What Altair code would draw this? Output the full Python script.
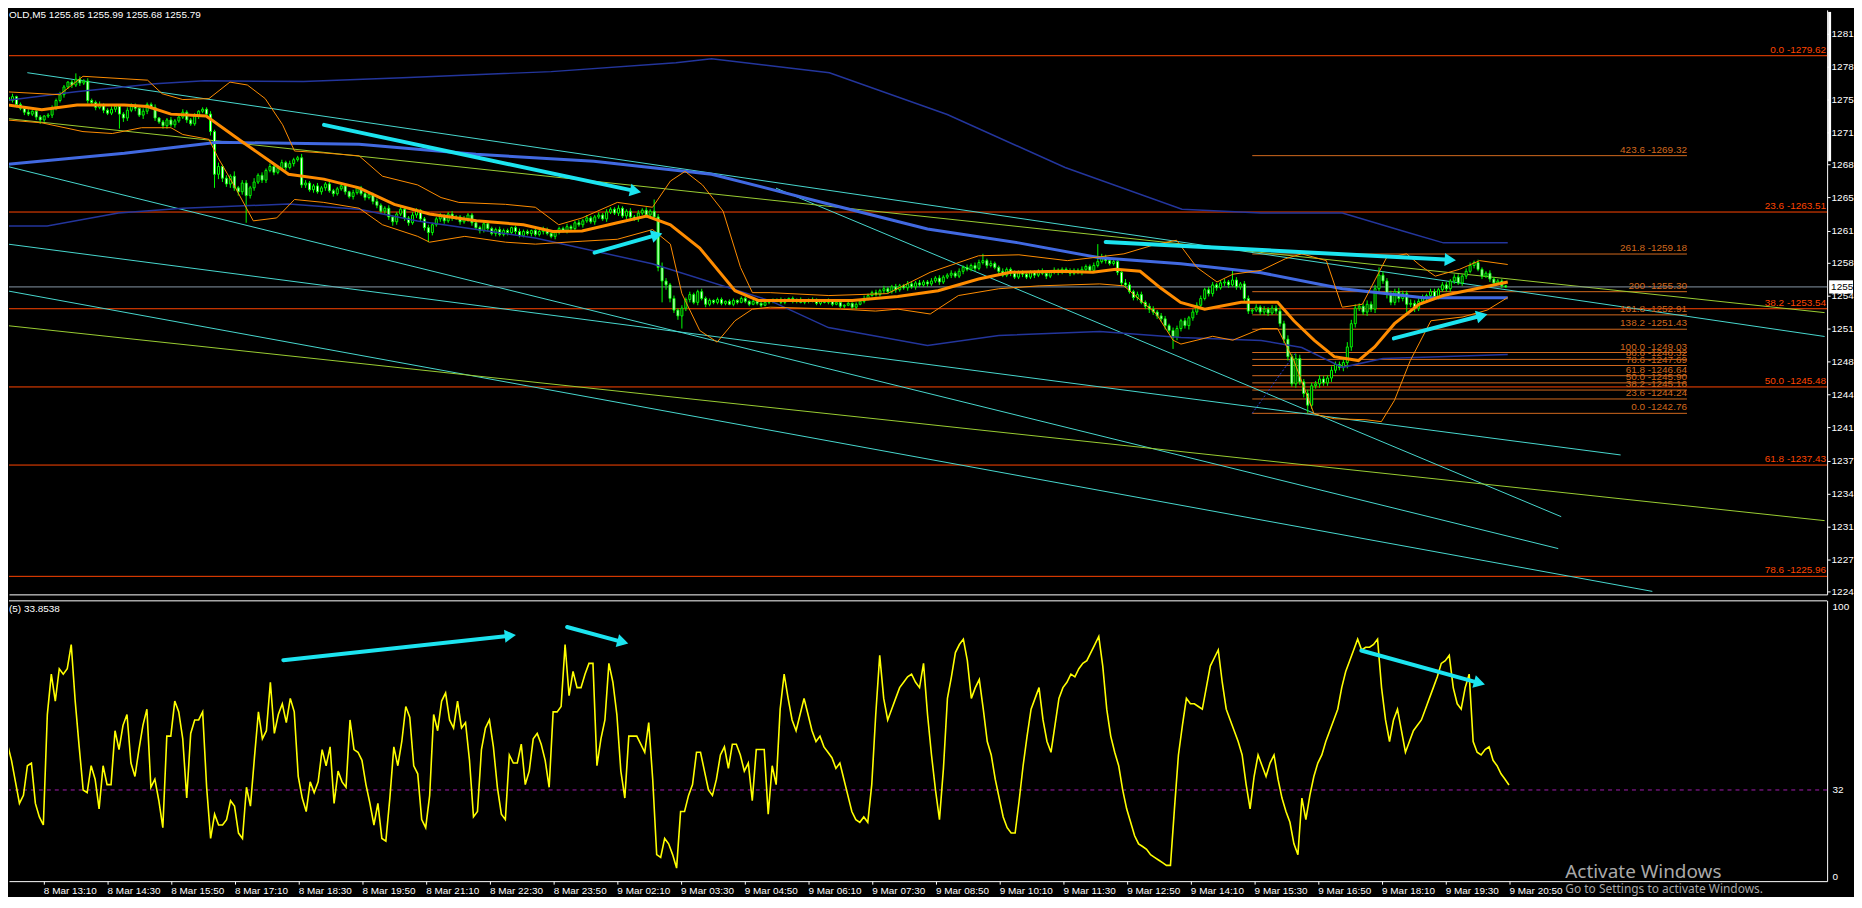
import math
import altair as alt
import pandas as pd

# ---------------------------------------------------------------- data
FIRST_BAR = -10          # index of the first M5 bar (bar 0 = 8 Mar 13:10)
first_open = 1275.3

close = [
    1275.0, 1275.4, 1274.6, 1274.2, 1273.8, 1273.6, 1273.9, 1273.3, 1273.0, 1273.4,
    1273.5, 1274.2, 1275.0, 1275.6, 1276.4, 1276.9, 1276.6, 1277.2, 1276.8, 1277.0,
    1275.0, 1274.8, 1274.3, 1274.6, 1274.0, 1273.7, 1274.1, 1274.4, 1273.6, 1273.2,
    1274.0, 1274.5, 1274.2, 1273.5, 1273.9, 1274.6, 1274.3, 1273.2, 1272.8, 1272.4,
    1273.0, 1272.5, 1272.9, 1273.3, 1273.8, 1273.0, 1272.6, 1273.4, 1273.9, 1274.1,
    1273.6, 1271.8, 1267.4, 1268.2, 1267.0, 1266.4, 1267.2, 1266.0, 1265.6, 1266.5,
    1265.2, 1266.0, 1266.6, 1267.3, 1266.8, 1267.8, 1268.2, 1267.6, 1268.0, 1268.6,
    1268.1, 1268.5, 1268.9, 1269.1, 1266.3, 1266.5, 1265.8, 1266.2, 1265.6, 1266.0,
    1266.4, 1265.7, 1265.4, 1265.9, 1266.2, 1265.6, 1265.1, 1265.5, 1266.0, 1265.4,
    1265.0, 1265.3, 1264.6, 1264.2, 1263.6, 1263.9, 1263.0, 1262.5, 1263.3, 1263.8,
    1262.9, 1262.4, 1263.2, 1263.7, 1262.8, 1261.9, 1261.4, 1262.2, 1262.8, 1263.1,
    1262.6, 1263.3, 1262.9, 1263.0, 1262.5, 1262.8, 1263.2, 1262.4, 1261.9, 1261.6,
    1262.3, 1261.8, 1261.3, 1261.7, 1261.2, 1261.6, 1261.4, 1261.9, 1261.5, 1261.1,
    1261.5, 1261.3, 1261.6, 1261.2, 1261.5, 1261.7, 1261.3, 1261.0, 1261.4, 1261.8,
    1261.6, 1262.0, 1261.8, 1262.4, 1262.2, 1262.6, 1262.9, 1262.5, 1263.0, 1263.2,
    1262.8, 1263.5, 1263.8, 1263.4, 1263.9, 1263.1, 1263.6, 1263.0, 1262.8, 1263.4,
    1263.7, 1263.2, 1263.6, 1263.0, 1257.8, 1256.4, 1256.0, 1254.6, 1253.4, 1252.8,
    1253.6, 1254.5, 1255.0, 1254.2, 1255.3, 1254.6, 1254.0, 1254.4, 1254.2, 1254.5,
    1254.1, 1254.3, 1254.0, 1254.4, 1254.2, 1254.6, 1254.3, 1254.0, 1254.3, 1254.1,
    1253.9, 1254.2, 1254.4, 1254.3, 1254.5, 1254.2, 1254.4, 1254.6, 1254.3, 1254.5,
    1254.2, 1254.4, 1254.3, 1254.5, 1254.1, 1254.3, 1254.2, 1254.4, 1254.0, 1254.2,
    1253.8, 1253.9, 1254.1, 1253.7, 1254.0, 1254.3, 1254.6, 1254.9, 1255.2, 1255.0,
    1255.4, 1255.6, 1255.3, 1255.8, 1255.5, 1255.9, 1255.7, 1256.1, 1255.8, 1256.2,
    1256.0, 1256.3, 1256.1, 1256.4, 1256.7, 1256.3, 1256.8, 1257.0, 1257.2, 1256.9,
    1257.4, 1257.8, 1257.6, 1258.0, 1257.7, 1258.3, 1258.5, 1258.0, 1258.2, 1257.8,
    1257.4, 1257.0, 1257.6, 1257.2, 1256.8, 1257.3, 1257.1, 1256.8, 1257.3, 1257.0,
    1257.4, 1257.2, 1256.9, 1257.3, 1257.5, 1257.3, 1257.6, 1257.4, 1257.2, 1257.5,
    1257.3, 1257.6, 1257.9, 1257.5, 1258.0, 1258.4, 1258.8, 1258.5, 1258.2, 1258.4,
    1257.3, 1256.2, 1256.0, 1255.3, 1254.7, 1255.0, 1254.2, 1253.8, 1253.5, 1253.2,
    1252.8, 1252.5, 1251.8, 1251.3, 1250.6, 1251.5, 1252.3, 1251.8, 1252.6, 1253.2,
    1253.9, 1254.6, 1255.5, 1255.1, 1256.0, 1255.7, 1256.2, 1256.3, 1256.0, 1256.5,
    1255.8, 1256.1, 1254.6, 1253.3, 1253.4, 1253.7, 1253.2, 1253.5, 1253.1, 1253.6,
    1253.3, 1252.0, 1250.4, 1248.6, 1245.8, 1248.4, 1246.0, 1244.8, 1243.6, 1245.6,
    1245.8, 1246.3, 1245.9, 1246.4, 1247.2, 1247.8, 1247.5, 1248.0, 1249.6, 1252.0,
    1253.6, 1253.8, 1253.2, 1254.0, 1253.5, 1255.6, 1257.0, 1256.4, 1255.0, 1254.2,
    1255.3, 1254.6, 1255.1, 1254.0, 1254.1, 1253.6, 1254.3, 1254.7, 1254.9, 1255.3,
    1254.8, 1255.5, 1256.0, 1255.6, 1256.4, 1256.8, 1256.2, 1256.9, 1257.4, 1258.0,
    1258.3, 1257.6, 1256.9, 1257.2, 1256.6, 1256.2, 1256.4, 1255.9, 1255.79,
]

# wick lengths in tenths of a dollar (above max(open,close) / below min(open,close))
wick_up = [
    2, 3, 1, 2, 2, 3, 1, 2, 2, 1, 2, 3, 2, 3, 2, 1, 2, 6, 3, 2,
    3, 2, 2, 3, 1, 2, 3, 2, 1, 2, 3, 2, 2, 1, 3, 2, 2, 3, 1, 2,
    2, 3, 2, 1, 3, 2, 2, 3, 1, 2, 2, 3, 2, 4, 2, 3, 2, 5, 2, 3,
    3, 2, 4, 2, 3, 2, 3, 2, 2, 3, 2, 3, 2, 2, 4, 3, 2, 2, 3, 2,
    2, 3, 2, 2, 3, 2, 1, 3, 2, 2, 3, 2, 2, 3, 2, 2, 3, 2, 2, 3,
    2, 2, 3, 2, 1, 2, 3, 2, 2, 3, 2, 2, 3, 2, 2, 3, 2, 2, 3, 2,
    2, 3, 2, 2, 3, 2, 2, 1, 2, 3, 2, 2, 1, 2, 2, 3, 2, 2, 1, 2,
    2, 3, 2, 2, 3, 2, 3, 2, 2, 3, 2, 3, 2, 2, 3, 2, 2, 3, 2, 3,
    2, 3, 2, 12, 3, 5, 3, 2, 3, 2, 3, 2, 3, 2, 2, 3, 2, 2, 1, 2,
    2, 1, 2, 2, 1, 2, 2, 1, 2, 1, 2, 2, 1, 2, 1, 2, 2, 1, 2, 1,
    2, 1, 2, 2, 1, 2, 1, 2, 1, 2, 2, 1, 2, 1, 2, 2, 3, 2, 2, 3,
    2, 3, 2, 2, 3, 2, 2, 3, 2, 2, 3, 2, 2, 3, 2, 3, 2, 2, 3, 2,
    3, 2, 3, 2, 3, 3, 7, 2, 3, 2, 2, 3, 2, 2, 3, 2, 2, 3, 2, 2,
    2, 3, 2, 2, 3, 2, 2, 2, 3, 2, 2, 3, 2, 2, 3, 18, 4, 3, 2, 3,
    3, 3, 4, 3, 2, 3, 3, 2, 3, 3, 2, 3, 3, 2, 3, 3, 2, 3, 2, 3,
    3, 3, 2, 3, 3, 2, 3, 3, 2, 11, 3, 2, 3, 3, 2, 3, 2, 3, 2, 3,
    3, 4, 3, 4, 3, 5, 4, 3, 4, 3, 3, 4, 3, 3, 4, 3, 3, 4, 5, 4,
    4, 3, 3, 4, 3, 4, 8, 4, 3, 4, 3, 4, 3, 3, 4, 3, 3, 3, 2, 3,
    3, 2, 3, 3, 2, 3, 3, 2, 3, 3, 2, 3, 2, 2, 3, 2, 2, 2, 1,
]
wick_dn = [
    2, 2, 3, 2, 3, 2, 2, 3, 4, 2, 2, 3, 2, 2, 3, 2, 3, 2, 3, 2,
    3, 2, 3, 2, 3, 2, 2, 3, 15, 4, 3, 2, 3, 2, 4, 3, 2, 3, 2, 3,
    3, 2, 3, 2, 2, 3, 2, 2, 3, 2, 3, 4, 14, 5, 4, 3, 4, 3, 4, 3,
    28, 3, 3, 2, 3, 3, 2, 3, 2, 2, 3, 2, 3, 2, 3, 3, 2, 3, 2, 3,
    3, 2, 3, 2, 2, 3, 2, 3, 2, 2, 3, 2, 3, 3, 2, 3, 3, 4, 3, 2,
    3, 3, 2, 3, 3, 3, 10, 3, 2, 3, 3, 2, 3, 2, 3, 2, 3, 3, 2, 3,
    2, 3, 2, 3, 2, 2, 3, 2, 3, 2, 2, 2, 3, 2, 2, 3, 2, 2, 3, 2,
    2, 3, 2, 3, 2, 3, 2, 2, 3, 2, 2, 3, 2, 2, 3, 2, 3, 2, 2, 3,
    2, 3, 2, 3, 4, 22, 5, 4, 3, 4, 13, 3, 3, 2, 3, 2, 3, 2, 2, 2,
    2, 2, 1, 2, 2, 1, 2, 2, 1, 2, 2, 1, 2, 2, 1, 2, 2, 1, 2, 2,
    1, 2, 2, 1, 2, 2, 1, 2, 2, 1, 2, 2, 1, 2, 2, 1, 2, 2, 1, 2,
    2, 3, 2, 2, 3, 2, 2, 3, 2, 3, 2, 2, 3, 2, 2, 3, 2, 2, 3, 2,
    2, 3, 2, 2, 3, 2, 2, 3, 2, 2, 3, 2, 2, 3, 2, 2, 3, 2, 2, 3,
    2, 2, 3, 2, 2, 3, 2, 2, 3, 2, 2, 3, 2, 2, 3, 2, 2, 3, 2, 2,
    3, 3, 3, 2, 3, 3, 2, 3, 4, 3, 3, 3, 4, 3, 12, 3, 3, 3, 4, 3,
    3, 3, 2, 3, 3, 3, 2, 3, 3, 2, 3, 3, 3, 3, 3, 2, 3, 3, 3, 2,
    3, 3, 4, 4, 3, 4, 3, 4, 8, 4, 3, 4, 3, 3, 4, 3, 3, 4, 6, 4,
    4, 3, 3, 4, 3, 4, 3, 3, 4, 3, 3, 4, 3, 8, 3, 4, 3, 3, 3, 3,
    3, 3, 2, 3, 3, 3, 2, 3, 3, 2, 3, 2, 3, 2, 3, 2, 2, 2, 1,
]

# oscillator (0..100), one value per bar
osc = [
    80.6, 49, 43, 35, 27, 30, 41, 42, 27, 22,
    19, 60, 75, 65, 77, 75, 77, 86, 65, 48,
    32, 31, 41, 36, 25, 41, 34, 34, 54, 47,
    56, 60, 42, 37, 47, 56, 62, 33, 36, 28,
    18, 52, 52, 65, 61, 51, 29, 53, 58, 58,
    61, 33, 14, 23, 19, 19, 21, 28, 26, 16,
    14, 33, 26, 44, 61, 51, 54, 72, 53, 60,
    64, 57, 66, 61, 37, 29, 24, 35, 31, 35,
    47, 41, 48, 27, 39, 35, 33, 58, 47, 46,
    43, 34, 27, 19, 27, 14, 13, 29, 48, 41,
    50, 63, 59, 41, 38, 21, 18, 30, 60, 54,
    65, 68, 58, 55, 65, 55, 57, 43, 22, 24,
    47, 55, 58, 48, 33, 23, 21, 45, 42, 42,
    49, 34, 39, 51, 53, 49, 43, 33, 61, 61,
    63, 86, 67, 76, 70, 70, 75, 79, 79, 41,
    51, 58, 79, 72, 60, 39, 29, 52, 52, 52,
    49, 46, 57, 36, 8, 7, 14, 12, 8, 3,
    24, 24, 30, 34, 46, 46, 39, 32, 30, 36,
    45, 48, 40, 49, 49, 45, 39, 42, 28, 47,
    47, 47, 23, 41, 34, 62, 75, 66, 58, 54,
    60, 66, 60, 54, 50, 52, 48, 46, 44, 40,
    42, 36, 30, 24, 21, 20, 22, 20, 34, 60,
    82, 66, 58, 62, 66, 70, 72, 74, 75, 72,
    70, 79, 60, 45, 32, 21, 40, 66, 74, 83,
    86, 88, 80, 66, 70, 73, 62, 50, 45, 36,
    29, 22, 18, 16, 16, 28, 41, 52, 62, 66,
    70, 58, 50, 46, 56, 66, 70, 72, 75, 74,
    77, 79, 80, 83, 86, 89, 78, 62, 52, 46,
    41, 32, 25, 20, 15, 12, 11, 10, 8, 7,
    6, 5, 4, 4, 25, 45, 56, 66, 64, 64,
    63, 62, 70, 78, 81, 84, 72, 62, 58, 54,
    50, 45, 34, 25, 37, 45, 41, 37, 42, 45,
    36, 29, 24, 20, 12, 8, 29, 21, 30, 37,
    42, 45, 50, 54, 58, 62, 70, 76, 80, 84,
    88, 84, 85, 85, 86, 88, 70, 58, 50, 58,
    62, 54, 46, 50, 54, 56, 58, 62, 66, 70,
    74, 79, 80, 82, 70, 64, 62, 70, 75, 50,
    46, 45, 47, 48, 43, 41, 38, 36, 33.85,
]

# indicator curves, read as (bar, price) points
ma_bar = [-10.5, -1.6, 7.3, 19.2, 25.1, 31, 39.9, 48.8, 56.2, 60.7, 69.6, 78.5, 87.4, 96.3, 108.1,
          120, 127.4, 134.8, 143.7, 151.1, 157.1, 164.5, 173.4, 179.3, 189.7, 203, 214.5, 224.7,
          234.9, 243, 255.2, 263.7, 269.6, 275.7, 280.8, 285.9, 292, 301.2, 310.4, 314.5, 319.6,
          324.7, 330.8, 334.9, 339.9, 346.1, 352.2, 359.3, 368.5]
ma_px = [1274.55, 1274.04, 1274.55, 1274.55, 1274.38, 1273.6, 1273.4, 1270.8, 1268.7, 1267.4, 1266.9,
         1266.0, 1264.3, 1263.3, 1262.6, 1262.2, 1261.5, 1261.55, 1262.4, 1263.1, 1262.2, 1259.8,
         1255.4, 1254.4, 1254.4, 1254.4, 1254.8, 1255.4, 1256.6, 1257.3, 1257.4, 1257.3, 1257.6,
         1257.4, 1255.7, 1254.2, 1253.5, 1254.2, 1254.2, 1252.3, 1250.3, 1248.6, 1248.2, 1249.6,
         1252.0, 1254.0, 1254.9, 1255.5, 1256.3]

bbu_bar = [-10.5, 2.9, 8.8, 25.1, 28.8, 34, 40.6, 45.9, 50.3, 54.8, 59.2, 62.2, 69.6, 78.5, 84.4, 93.3,
           99.2, 103.7, 115.5, 123, 128.9, 134.8, 143.7, 152.6, 157.1, 160.8, 165.2, 170.4, 174.8,
           177.8, 182.3, 197.1, 211.9, 222.7, 234.9, 245.1, 257.3, 263.7, 271.6, 279.8, 284.9, 290,
           295.1, 299.1, 306.3, 312.4, 316.5, 322.7, 326.7, 331.8, 337.9, 343, 346.1, 350.2, 356.3,
           361.4, 368.5]
bbu_px = [1275.9, 1275.6, 1277.5, 1277.1, 1275.7, 1275.1, 1275.2, 1276.9, 1276.6, 1275.2, 1272.5,
          1269.8, 1269.6, 1269.3, 1267.2, 1266.3, 1265.0, 1264.5, 1264.3, 1264.0, 1262.2, 1262.9,
          1264.5, 1264.0, 1266.7, 1267.7, 1266.3, 1263.6, 1257.8, 1255.2, 1255.2, 1254.9, 1255.1,
          1257.3, 1259.0, 1259.1, 1258.5, 1258.8, 1259.2, 1260.2, 1260.6, 1257.8, 1256.3, 1257.1,
          1257.5, 1258.7, 1259.2, 1258.5, 1253.7, 1254.0, 1258.8, 1259.2, 1258.1, 1256.9, 1257.6,
          1258.5, 1258.1]

bbl_bar = [-10.5, -1.6, 8.8, 16.2, 23.6, 31, 34, 40.6, 42.9, 47.3, 51.8, 57.7, 62.2, 69.6, 78.5, 84.4,
           93.3, 96.3, 105.2, 115.5, 123, 134.8, 143.7, 152.6, 157.1, 160, 164.5, 168.9, 173.4, 177.8,
           182.3, 200, 208.9, 214.5, 222.7, 229.8, 240, 250.2, 265.5, 271.6, 279.8, 284, 286, 294,
           299.1, 306.3, 310.4, 314.5, 319.6, 324.7, 332.7, 336.6, 339.9, 343.9, 349.1, 357.2, 363.3,
           368.5]
bbl_px = [1273.0, 1272.7, 1271.8, 1271.6, 1272.2, 1272.2, 1271.5, 1271.0, 1269.1, 1266.0, 1262.6,
          1262.9, 1264.8, 1264.5, 1263.9, 1262.2, 1261.0, 1260.4, 1261.0, 1260.4, 1260.2, 1260.5,
          1260.7, 1261.7, 1260.2, 1255.1, 1251.3, 1250.1, 1252.3, 1253.5, 1253.7, 1253.5, 1253.3,
          1253.5, 1253.0, 1254.9, 1255.6, 1255.9, 1256.1, 1255.9, 1253.0, 1250.3, 1249.9, 1250.7,
          1250.3, 1251.5, 1251.5, 1248.2, 1242.7, 1242.2, 1242.1, 1241.9, 1244.1, 1248.2, 1252.3,
          1252.7, 1253.4, 1254.7]

blue_bar = [-10.5, 19.25, 42.9, 78.5, 108, 137.75, 167.5, 197, 222, 245, 265.5, 286, 306.25, 326.75,
            347.25, 368.5]
blue_px = [1268.43, 1269.56, 1270.69, 1270.49, 1269.46, 1268.74, 1267.41, 1264.33, 1261.76, 1260.33,
           1258.79, 1258.17, 1257.25, 1255.61, 1254.68, 1254.68]

navy_u_bar = [-10.5, 7, 27, 39.5, 64.5, 89.5, 127, 158.5, 167.5, 197.25, 227, 256.75, 286.25, 306.25,
              326.75, 342, 352.25, 368.5]
navy_u_px = [1275.0, 1275.9, 1276.74, 1277.05, 1276.95, 1277.36, 1277.98, 1278.9, 1279.31, 1277.87,
             1273.56, 1268.1, 1263.8, 1263.4, 1263.4, 1261.56, 1260.33, 1260.33]
navy_l_bar = [-10.5, -0.25, 17.75, 34, 60.75, 78.5, 93.25, 123, 152.5, 182.25, 197, 222, 240, 265.5,
              286, 306.25, 316.5, 326.75, 337, 347.25, 368.5]
navy_l_px = [1262.07, 1262.07, 1263.4, 1263.9, 1264.33, 1263.8, 1262.58, 1260.84, 1258.17, 1254.37,
             1251.6, 1249.76, 1250.78, 1251.19, 1250.58, 1250.27, 1249.55, 1247.5, 1248.42, 1248.53,
             1248.83]

# drawn objects
cyan_from_bar = [-5.25, -10.5, 183.75, -10.5, -10.5]
cyan_from_px = [1277.87, 1268.23, 1265.97, 1260.22, 1255.40]
cyan_to_bar = [448.5, 381.25, 382.0, 397.0, 405.0]
cyan_to_px = [1250.68, 1228.82, 1232.11, 1238.47, 1224.41]
green_from_bar = [-10.5, -10.5]
green_from_px = [1273.15, 1251.81]
green_to_bar = [448.5, 448.5]
green_to_px = [1253.14, 1231.70]

fib_main_levels = [1279.62, 1263.51, 1253.54, 1245.48, 1237.43, 1225.96]
fib_main_text = ["0.0 -1279.62", "23.6 -1263.51", "38.2 -1253.54", "50.0 -1245.48",
                 "61.8 -1237.43", "78.6 -1225.96"]
fib_ext_levels = [1242.76, 1244.24, 1245.16, 1245.90, 1246.64, 1247.69, 1248.32, 1249.03,
                  1251.43, 1252.91, 1255.30, 1259.18, 1269.32]
fib_ext_text = ["0.0 -1242.76", "23.6 -1244.24", "38.2 -1245.16", "50.0 -1245.90", "61.8 -1246.64",
                "78.6 -1247.69", "88.6 -1248.32", "100.0 -1249.03", "138.2  -1251.43",
                "161.8 -1252.91", "200 -1255.30", "261.8 -1259.18", "423.6 -1269.32"]
fib_ext_from_bar = 304
fib_ext_to_bar = 413.75
fib_diag_bar = [304, 315]
fib_diag_px = [1242.76, 1249.03]

arrow_from_bar = [69.65, 137.95, 267.0, 339.75]
arrow_from_px = [1272.49, 1259.32, 1260.43, 1250.48]
arrow_to_bar = [148.3, 153.7, 354.0, 362.0]
arrow_to_px = [1265.66, 1261.15, 1258.58, 1252.84]
osc_arrow_from_bar = [60.25, 131.5, 330.9]
osc_arrow_from_val = [80.2, 92.5, 83.8]
osc_arrow_to_bar = [117.25, 145.5, 360.6]
osc_arrow_to_val = [89.3, 86.9, 71.7]

bid_price = 1255.79
bid_label = "1255"
osc_level = 32
title_text = "OLD,M5  1255.85 1255.99 1255.68 1255.79"
osc_text = "(5) 33.8538"
watermark_1 = "Activate Windows"
watermark_2 = "Go to Settings to activate Windows."

price_ticks = [1281.9, 1278.5, 1275.1, 1271.7, 1268.4, 1265.0, 1261.6, 1258.3, 1254.9,
               1251.5, 1248.1, 1244.7, 1241.3, 1237.9, 1234.5, 1231.1, 1227.7, 1224.4]
osc_ticks = [0, 32, 100]
time_labels = ["8 Mar 13:10", "8 Mar 14:30", "8 Mar 15:50", "8 Mar 17:10", "8 Mar 18:30",
               "8 Mar 19:50", "8 Mar 21:10", "8 Mar 22:30", "8 Mar 23:50", "9 Mar 02:10",
               "9 Mar 03:30", "9 Mar 04:50", "9 Mar 06:10", "9 Mar 07:30", "9 Mar 08:50",
               "9 Mar 10:10", "9 Mar 11:30", "9 Mar 12:50", "9 Mar 14:10", "9 Mar 15:30",
               "9 Mar 16:50", "9 Mar 18:10", "9 Mar 19:30", "9 Mar 20:50"]
bars_per_label = 16

# ---------------------------------------------------------------- layout / style
W, HP, HO = 1826, 587, 282
X_DOM = [-8.625, 447.875]
P_DOM = [1224.10, 1284.34]
O_DOM = [-1.85, 102.4]
PXB = W / (X_DOM[1] - X_DOM[0])
PXP = HP / (P_DOM[1] - P_DOM[0])
PXO = HO / (O_DOM[1] - O_DOM[0])
FONT = "Liberation Sans"
LIME, WHITE = "#00FF00", "#FFFFFF"
FIB_MAIN, FIB_EXT = "#FF4500", "#D2691E"
CYAN, YGREEN, ARROW = "#48D8D0", "#9ACD32", "#1CE4F0"
ORANGE, ROYAL, NAVY = "#FF8C00", "#4169E1", "#23359C"

n = len(close)
if not (len(wick_up) == len(wick_dn) == len(osc) == n):
    raise ValueError(f"lengths {n} {len(wick_up)} {len(wick_dn)} {len(osc)}")
bars = list(range(FIRST_BAR, FIRST_BAR + n))
opens = [first_open] + close[:-1]
cdf = pd.DataFrame({"bar": bars, "open": opens, "close": close, "wu": wick_up, "wd": wick_dn})
cdf["high"] = cdf[["open", "close"]].max(axis=1) + cdf["wu"] / 10.0
cdf["low"] = cdf[["open", "close"]].min(axis=1) - cdf["wd"] / 10.0

xs = alt.Scale(domain=X_DOM, nice=False, zero=False)
ps = alt.Scale(domain=P_DOM, nice=False, zero=False)
oscale = alt.Scale(domain=O_DOM, nice=False, zero=False)

px_axis = alt.Axis(title=None, labels=False, ticks=False, grid=False, domain=True,
                   domainColor=WHITE, domainWidth=1)
py_axis = alt.Axis(title=None, orient="right", values=price_ticks,
                   labelExpr="'' + floor(datum.value)", grid=False, domainColor=WHITE,
                   tickColor=WHITE, tickSize=3, labelColor=WHITE, labelFont=FONT,
                   labelFontSize=10, labelPadding=1, labelFlush=False, labelOverlap=False)
label_expr = "[" + ",".join(f"'{t}'" for t in time_labels) + f"][round(datum.value / {bars_per_label})]"
ox_axis = alt.Axis(title=None, values=[bars_per_label * k for k in range(len(time_labels))],
                   labelExpr=label_expr, labelAlign="left", labelBaseline="top",
                   labelColor=WHITE, labelFont=FONT, labelFontSize=10, labelPadding=1,
                   tickColor=WHITE, tickSize=3, domainColor=WHITE, grid=False,
                   labelFlush=False, labelOverlap=False)
oy_axis = alt.Axis(title=None, orient="right", values=osc_ticks, format="d", tickSize=0,
                   labelPadding=5, labelColor=WHITE, labelFont=FONT, labelFontSize=10,
                   domainColor=WHITE, grid=False, labelFlush=False, labelOverlap=False)


def PX(f):
    return alt.X(f, scale=xs, axis=px_axis)


def PY(f):
    return alt.Y(f, scale=ps, axis=py_axis)


def OX(f):
    return alt.X(f, scale=xs, axis=ox_axis)


def OY(f):
    return alt.Y(f, scale=oscale, axis=oy_axis)


def curve(bx, py, name):
    return pd.DataFrame({"bar": bx, "px": py, "i": range(len(bx)), "s": name})


def angles(b1, v1, b2, v2, pxv):
    return [math.degrees(math.atan2(-(q2 - q1) * pxv, (c2 - c1) * PXB)) % 360
            for c1, q1, c2, q2 in zip(b1, v1, b2, v2)]


one = pd.DataFrame({"k": [0]})

# ---------------------------------------------------------------- price pane
fm = pd.DataFrame({"p": fib_main_levels, "t": fib_main_text})
fe = pd.DataFrame({"p": fib_ext_levels, "t": fib_ext_text,
                   "x1": fib_ext_from_bar, "x2": fib_ext_to_bar})
cy = pd.DataFrame({"x1": cyan_from_bar, "p1": cyan_from_px, "x2": cyan_to_bar, "p2": cyan_to_px})
gr = pd.DataFrame({"x1": green_from_bar, "p1": green_from_px, "x2": green_to_bar, "p2": green_to_px})
fd = pd.DataFrame({"x1": [fib_diag_bar[0]], "p1": [fib_diag_px[0]],
                   "x2": [fib_diag_bar[1]], "p2": [fib_diag_px[1]]})
ar = pd.DataFrame({"x1": arrow_from_bar, "p1": arrow_from_px, "x2": arrow_to_bar, "p2": arrow_to_px,
                   "ang": angles(arrow_from_bar, arrow_from_px, arrow_to_bar, arrow_to_px, PXP)})
bidf = pd.DataFrame({"p": [bid_price], "t": [bid_label]})

layers = [
    alt.Chart(fm).mark_rule(color=FIB_MAIN, strokeWidth=1).encode(y=PY("p:Q")),
    alt.Chart(fe).mark_rule(color=FIB_EXT, strokeWidth=1).encode(x=PX("x1:Q"), x2="x2:Q", y=PY("p:Q")),
    alt.Chart(cy).mark_rule(color=CYAN, strokeWidth=1, clip=True).encode(
        x=PX("x1:Q"), y=PY("p1:Q"), x2="x2:Q", y2="p2:Q"),
    alt.Chart(gr).mark_rule(color=YGREEN, strokeWidth=1, clip=True).encode(
        x=PX("x1:Q"), y=PY("p1:Q"), x2="x2:Q", y2="p2:Q"),
    alt.Chart(bidf).mark_rule(color="#8796A6", strokeWidth=1).encode(y=PY("p:Q")),
    alt.Chart(fd).mark_rule(color="#2A3FD0", strokeWidth=1, strokeDash=[2, 2]).encode(
        x=PX("x1:Q"), y=PY("p1:Q"), x2="x2:Q", y2="p2:Q"),
    alt.Chart(cdf).mark_rule(color=LIME, strokeWidth=1, clip=True).encode(
        x=PX("bar:Q"), y=PY("low:Q"), y2="high:Q"),
    alt.Chart(cdf).mark_bar(width=2, stroke=LIME, strokeWidth=1, clip=True).encode(
        x=PX("bar:Q"), y=PY("open:Q"), y2="close:Q",
        fill=alt.condition("datum.close < datum.open", alt.value(WHITE), alt.value("#000000"))),
    alt.Chart(pd.concat([curve(navy_u_bar, navy_u_px, "u"), curve(navy_l_bar, navy_l_px, "l")])
              ).mark_line(color=NAVY, strokeWidth=1.5, clip=True).encode(
        x=PX("bar:Q"), y=PY("px:Q"), detail="s:N", order="i:Q"),
    alt.Chart(curve(blue_bar, blue_px, "b")).mark_line(color=ROYAL, strokeWidth=3, clip=True).encode(
        x=PX("bar:Q"), y=PY("px:Q"), order="i:Q"),
    alt.Chart(pd.concat([curve(bbu_bar, bbu_px, "u"), curve(bbl_bar, bbl_px, "l")])
              ).mark_line(color=ORANGE, strokeWidth=1, clip=True).encode(
        x=PX("bar:Q"), y=PY("px:Q"), detail="s:N", order="i:Q"),
    alt.Chart(curve(ma_bar, ma_px, "m")).mark_line(color=ORANGE, strokeWidth=3, clip=True).encode(
        x=PX("bar:Q"), y=PY("px:Q"), order="i:Q"),
    alt.Chart(ar).mark_rule(color=ARROW, strokeWidth=4, strokeCap="round").encode(
        x=PX("x1:Q"), y=PY("p1:Q"), x2="x2:Q", y2="p2:Q"),
    alt.Chart(ar).mark_point(shape="triangle-right", filled=True, size=170, color=ARROW,
                             opacity=1).encode(
        x=PX("x2:Q"), y=PY("p2:Q"), angle=alt.Angle("ang:Q", scale=None)),
    alt.Chart(fm).mark_text(align="right", baseline="bottom", dy=-1, color=FIB_MAIN, font=FONT,
                            fontSize=10).encode(x=alt.value(W - 1), y=PY("p:Q"), text="t:N"),
    alt.Chart(fe).mark_text(align="right", baseline="bottom", dy=-1, color=FIB_EXT, font=FONT,
                            fontSize=10).encode(x=PX("x2:Q"), y=PY("p:Q"), text="t:N"),
    alt.Chart(bidf).transform_calculate(top="datum.p + 0.68", bot="datum.p - 0.68").mark_rect(
        color=WHITE).encode(x=alt.value(W + 2), x2=alt.value(W + 26), y=PY("top:Q"), y2="bot:Q"),
    alt.Chart(bidf).mark_text(align="left", baseline="middle", color="#000000", font=FONT,
                              fontSize=10).encode(x=alt.value(W + 4), y=PY("p:Q"), text="t:N"),
    alt.Chart(one).mark_rule(color=WHITE, strokeWidth=3).encode(
        x=alt.value(W + 2.5), y=alt.value(2), y2=alt.value(152)),
    alt.Chart(one).mark_text(align="left", baseline="middle", color=WHITE, font=FONT,
                             fontSize=10, text=title_text).encode(x=alt.value(0), y=alt.value(5)),
]
price = alt.layer(*layers).properties(width=W, height=HP)

# ---------------------------------------------------------------- oscillator pane
odf = pd.DataFrame({"bar": bars, "v": osc})
oar = pd.DataFrame({"x1": osc_arrow_from_bar, "v1": osc_arrow_from_val,
                    "x2": osc_arrow_to_bar, "v2": osc_arrow_to_val,
                    "ang": angles(osc_arrow_from_bar, osc_arrow_from_val,
                                  osc_arrow_to_bar, osc_arrow_to_val, PXO)})
olayers = [
    alt.Chart(pd.DataFrame({"v": [osc_level]})).mark_rule(
        color="#A21DB0", strokeWidth=1, strokeDash=[4, 4]).encode(y=OY("v:Q")),
    alt.Chart(odf).mark_line(color="#FFFF00", strokeWidth=1.6, clip=True).encode(
        x=OX("bar:Q"), y=OY("v:Q")),
    alt.Chart(oar).mark_rule(color=ARROW, strokeWidth=4, strokeCap="round").encode(
        x=OX("x1:Q"), y=OY("v1:Q"), x2="x2:Q", y2="v2:Q"),
    alt.Chart(oar).mark_point(shape="triangle-right", filled=True, size=170, color=ARROW,
                              opacity=1).encode(
        x=OX("x2:Q"), y=OY("v2:Q"), angle=alt.Angle("ang:Q", scale=None)),
    alt.Chart(one).mark_rule(color=WHITE, strokeWidth=1).encode(
        x=alt.value(0), x2=alt.value(W), y=alt.value(0.5)),
    alt.Chart(one).mark_text(align="left", baseline="middle", color=WHITE, font=FONT,
                             fontSize=10, text=osc_text).encode(x=alt.value(0), y=alt.value(9)),
    alt.Chart(one).mark_text(align="left", baseline="alphabetic", color="#A9A9A9", font="Noto Sans",
                             fontSize=19, text=watermark_1).encode(x=alt.value(1563), y=alt.value(HO - 3)),
    alt.Chart(one).mark_text(align="left", baseline="alphabetic", color="#A9A9A9", font="Noto Sans",
                             fontSize=12, text=watermark_2).encode(x=alt.value(1563), y=alt.value(HO + 12)),
]
oscillator = alt.layer(*olayers).properties(width=W, height=HO)

chart = alt.vconcat(price, oscillator, spacing=3).properties(
    padding=0, background="#000000"
).configure_view(stroke=None)

chart.save("out.html", embed_options={"renderer": "svg", "actions": False})
